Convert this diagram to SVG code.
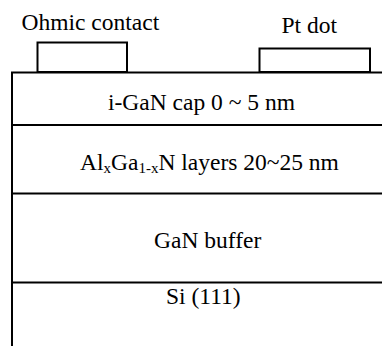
<svg xmlns="http://www.w3.org/2000/svg" width="382" height="346" viewBox="0 0 382 346">
<style>
  .ln { stroke: #000; stroke-width: 2; fill: none; }
  .ct { stroke: #000; stroke-width: 2; fill: #fff; }
  .t { font-family: 'Liberation Serif', 'Times New Roman', serif; font-size: 23.5px; fill: #000; }
  .sub { font-size: 15px; }
</style>
<rect width="382" height="346" fill="#fff"/>
<g id="layers">
  <g id="cap">
    <text class="t" x="108" y="109.5">i-GaN cap 0 ~ 5 nm</text>
  </g>
  <g id="algan">
    <text class="t" x="80" y="169.5">Al<tspan class="sub" dy="3">x</tspan><tspan dy="-3">Ga</tspan><tspan class="sub" dy="3">1-x</tspan><tspan dy="-3">N layers 20~25 nm</tspan></text>
  </g>
  <g id="buffer">
    <text class="t" x="154" y="247.5">GaN buffer</text>
  </g>
  <g id="si">
    <text class="t" x="166" y="304">Si (111)</text>
  </g>
</g>
<g id="contacts">
  <g id="ohmic">
    <rect class="ct" x="37.5" y="42.5" width="89.5" height="29.5"/>
    <text class="t" x="21.5" y="30">Ohmic contact</text>
  </g>
  <g id="pt">
    <rect class="ct" x="259.5" y="48.5" width="110.5" height="23.5"/>
    <text class="t" x="281.5" y="33">Pt dot</text>
  </g>
</g>
<g id="connectors">
  <path class="ln" d="M12 346 V72.5 H382"/>
  <path class="ln" d="M12 125 H382"/>
  <path class="ln" d="M12 193.5 H382"/>
  <path class="ln" d="M12 282.5 H382"/>
</g>
</svg>
